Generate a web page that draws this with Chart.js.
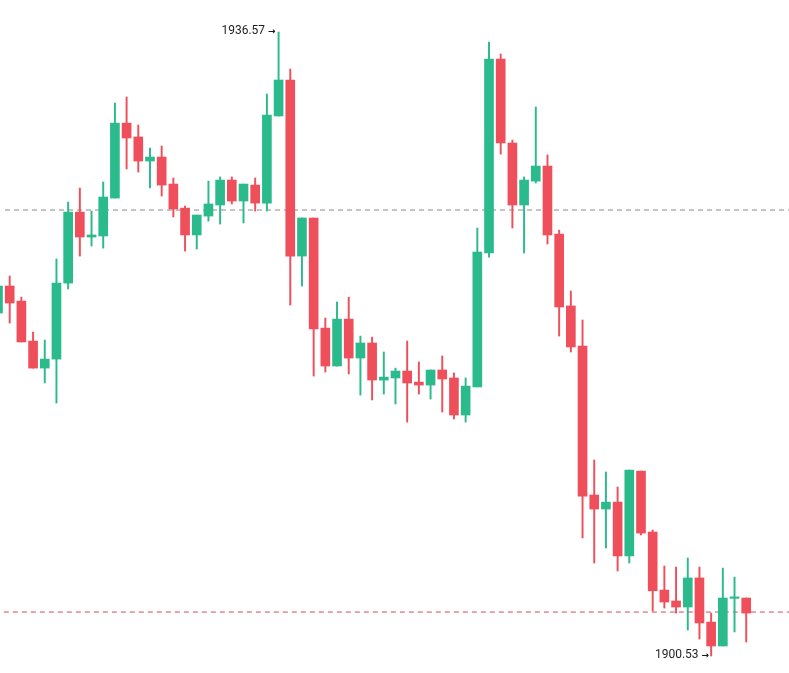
<!DOCTYPE html>
<html>
<head>
<meta charset="utf-8">
<script src="https://cdn.jsdelivr.net/npm/chart.js@4.4.0/dist/chart.umd.min.js"></script>
<style>
  html, body { margin: 0; padding: 0; background: #ffffff; }
  #wrap { width: 789px; height: 673px; position: relative; }
</style>
</head>
<body>
<div id="wrap"><canvas id="c"></canvas></div>
<script>
// Candle OHLC values
const opens  = [1920.34,1921.90,1921.03,1918.72,1917.16,1917.68,1922.07,1926.17,1924.73,1924.79,
                1926.98,1931.31,1930.51,1929.12,1929.35,1927.79,1926.40,1924.85,1925.94,1926.58,
                1928.02,1926.81,1927.73,1926.69,1931.72,1933.80,1923.63,1925.83,1919.47,1917.28,
                1919.99,1917.74,1918.61,1916.47,1916.59,1916.99,1916.35,1916.18,1917.05,1916.59,
                1914.45,1916.07,1923.81,1935.01,1930.16,1926.58,1927.96,1928.83,1924.90,1920.75,
                1918.43,1909.83,1909.02,1909.42,1906.31,1911.21,1907.69,1904.34,1903.71,1903.36,
                1905.04,1902.49,1901.11,1903.86,1903.88];
const highs  = [1922.25,1922.48,1921.26,1919.24,1918.78,1923.46,1926.75,1927.56,1926.23,1927.91,
                1932.47,1932.82,1931.20,1929.87,1929.99,1928.14,1926.52,1926.00,1927.96,1928.20,
                1928.20,1927.79,1928.14,1932.99,1936.57,1934.43,1925.83,1925.83,1920.05,1920.98,
                1921.26,1919.01,1918.95,1918.09,1917.16,1918.72,1917.51,1917.05,1917.86,1916.88,
                1916.59,1925.25,1935.99,1935.30,1930.33,1928.20,1932.24,1929.47,1925.13,1921.61,
                1919.94,1911.85,1911.16,1910.29,1911.27,1911.21,1907.81,1905.73,1905.67,1906.19,
                1905.67,1903.01,1905.61,1905.09,1903.88];
const lows   = [1920.05,1919.76,1918.67,1917.16,1916.30,1915.14,1921.73,1923.63,1924.21,1924.09,
                1926.98,1928.66,1928.48,1927.56,1927.10,1925.89,1923.92,1924.04,1925.65,1925.48,
                1926.64,1925.54,1926.23,1926.23,1931.72,1920.80,1921.90,1916.70,1916.93,1917.28,
                1916.82,1915.60,1915.32,1915.66,1915.09,1914.04,1915.66,1915.37,1914.62,1914.22,
                1914.04,1916.07,1923.57,1929.52,1925.25,1923.81,1927.85,1924.33,1919.01,1918.09,
                1907.35,1905.90,1906.77,1905.44,1905.90,1907.52,1903.13,1903.30,1903.01,1902.03,
                1901.51,1900.53,1901.11,1901.92,1901.34];
const closes = [1921.90,1920.92,1918.67,1917.16,1917.68,1922.07,1926.17,1924.73,1924.85,1927.04,
                1931.31,1930.45,1929.12,1929.35,1927.73,1926.35,1924.85,1926.00,1926.64,1928.02,
                1926.81,1927.79,1926.69,1931.78,1933.80,1923.63,1925.83,1919.42,1917.28,1919.99,
                1917.74,1918.61,1916.47,1916.64,1916.99,1916.30,1916.18,1917.05,1916.53,1914.45,
                1916.12,1923.86,1935.01,1930.16,1926.58,1928.02,1928.83,1924.85,1920.69,1918.38,
                1909.77,1909.02,1909.42,1906.31,1911.27,1907.63,1904.30,1903.65,1903.36,1905.04,
                1902.44,1901.11,1903.88,1903.90,1903.01];
const candleIndex = opens.map((_, i) => i);

// Horizontal reference levels (dashed)
const levelUpper = 1926.29;
const levelLower = 1903.07;

// Marked extremes
const maxLabel = "1936.57";
const minLabel = "1900.53";
const arrow = "→";
const maxIdx = 24;
const minIdx = 61;

const UP = '#2bba8c';
const DOWN = '#ef4f5b';
const colors = candleIndex.map(i => closes[i] >= opens[i] ? UP : DOWN);

const bodies = candleIndex.map(i => ({ x: i, y: [opens[i], closes[i]] }));
const wicks  = candleIndex.map(i => ({ x: i, y: [lows[i], highs[i]] }));

function drawMark(ctx, text, xRight, y) {
  ctx.textBaseline = 'middle';
  ctx.textAlign = 'right';
  ctx.font = 'bold 9px "DejaVu Sans", sans-serif';
  ctx.fillText(arrow, xRight, y + 1);
  const aw = ctx.measureText(arrow).width;
  ctx.font = '12px Roboto, "Liberation Sans", sans-serif';
  ctx.fillText(text, xRight - aw - 3, y);
}

const labelPlugin = {
  id: 'extremeLabels',
  afterDatasetsDraw(chart) {
    const { ctx, scales } = chart;
    const xs = scales.x, ys = scales.y;
    ctx.save();
    ctx.fillStyle = '#1e1e1e';
    drawMark(ctx, maxLabel, xs.getPixelForValue(maxIdx) - 3, ys.getPixelForValue(highs[maxIdx]) - 1);
    drawMark(ctx, minLabel, xs.getPixelForValue(minIdx) - 2, ys.getPixelForValue(lows[minIdx]) - 1);
    ctx.restore();
  }
};

new Chart(document.getElementById('c'), {
  type: 'bar',
  data: {
    datasets: [
      {
        type: 'line',
        data: [{ x: 0.6, y: levelUpper }, { x: 70, y: levelUpper }],
        borderColor: '#8c8c8c',
        borderWidth: 1,
        borderDash: [5, 4],
        pointRadius: 0,
        fill: false,
        order: 3
      },
      {
        type: 'line',
        data: [{ x: 0.5, y: levelLower }, { x: 70, y: levelLower }],
        borderColor: '#c4505e',
        borderWidth: 1,
        borderDash: [5, 4],
        pointRadius: 0,
        fill: false,
        order: 3
      },
      {
        data: wicks,
        backgroundColor: colors,
        borderWidth: 0,
        barThickness: 1.3,
        grouped: false,
        order: 2
      },
      {
        data: bodies,
        backgroundColor: colors,
        borderWidth: 0,
        barThickness: 9,
        minBarLength: 1.5,
        grouped: false,
        order: 1
      }
    ]
  },
  options: {
    responsive: true,
    maintainAspectRatio: false,
    animation: false,
    layout: { padding: 0 },
    plugins: { legend: { display: false }, tooltip: { enabled: false } },
    scales: {
      x: { type: 'linear', min: 0.171, max: 67.66, offset: false, display: false, grid: { display: false } },
      y: { type: 'linear', min: 1899.55, max: 1938.42, display: false, grid: { display: false } }
    }
  },
  plugins: [labelPlugin]
});
</script>
</body>
</html>
